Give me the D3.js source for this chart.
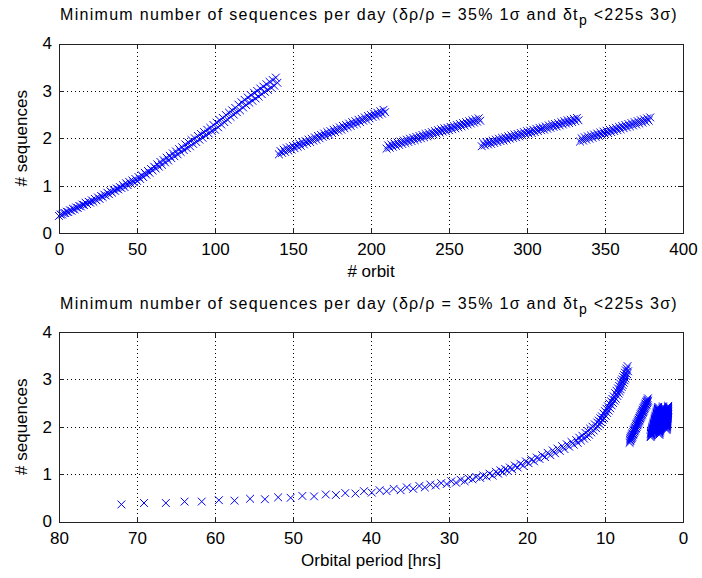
<!DOCTYPE html>
<html><head><meta charset="utf-8">
<script src="https://cdn.jsdelivr.net/npm/d3@7"></script>
<style>
body{margin:0;background:#fff;}
text{font-family:"Liberation Sans",Arial,Helvetica,sans-serif;fill:#000;}
</style>
</head><body><svg id="c" width="702" height="578"></svg>
<script>
// ---- data ----
const yTicks = [0, 1, 2, 3, 4];
const orbitTicks = [0, 50, 100, 150, 200, 250, 300, 350, 400];
const periodTicks = [80, 70, 60, 50, 40, 30, 20, 10, 0];
const segStart = [0, 141, 210, 271, 334];

// segment 1 : orbits 0..140
const seg1Seq = [0.36,0.39,0.39,0.42,0.42,0.45,0.44,0.48,0.47,0.51,0.50,
0.54,0.53,0.57,0.56,0.60,0.59,0.64,0.61,0.66,0.64,
0.69,0.66,0.72,0.69,0.75,0.72,0.78,0.76,0.81,0.79,
0.85,0.82,0.88,0.85,0.91,0.89,0.94,0.92,0.97,0.95,1.01,0.97,1.05,1.01,1.08,1.04,1.11,1.07,1.14,1.10,
1.18,1.14,1.22,1.18,1.27,1.23,1.31,1.27,1.35,1.32,1.40,1.36,1.45,1.40,1.50,1.44,1.54,1.49,1.59,1.53,1.63,1.58,1.68,1.62,1.72,
1.66,1.77,1.71,1.81,1.75,1.87,1.79,1.91,1.83,1.96,1.88,2.00,1.92,2.05,1.97,2.09,2.01,2.13,2.06,2.18,2.10,2.22,2.15,2.28,2.18,
2.33,2.23,2.38,2.29,2.43,2.34,2.49,2.39,2.54,2.45,2.59,2.50,2.64,2.55,2.71,2.59,2.76,2.65,2.81,2.70,
2.86,2.75,2.91,2.79,2.96,2.84,3.00,2.88,3.05,2.93,3.09,2.98,3.14,3.02,3.19,3.07,3.23,3.11,3.28,3.17];
const seg1Period = [72.0,69.1,66.3,63.9,61.7,59.5,57.5,55.5,53.6,51.9,50.3,48.8,47.3,45.8,44.5,43.3,42.0,40.9,39.9,38.9,38.0,37.1,36.2,35.4,34.6,33.8,33.1,32.4,31.7,31.0,30.3,
29.7,29.1,28.5,28.0,27.5,27.0,26.5,26.0,25.6,25.2,24.8,24.4,24.0,23.7,23.4,23.1,22.8,22.5,22.2,21.9,
21.55,21.2,20.85,20.5,20.15,19.8,19.45,19.1,18.75,18.4,18.05,17.7,17.35,17.0,16.7,16.4,16.1,15.8,15.5,15.2,14.9,14.6,14.3,14.0,13.7,
13.5,13.3,13.1,12.9,12.7,12.5,12.35,12.2,12.05,11.9,11.75,11.6,11.45,11.3,11.15,11.0,10.9,10.8,10.7,10.6,10.5,10.4,10.3,10.2,10.1,
10.0,9.91,9.81,9.72,9.62,9.53,9.43,9.34,9.24,9.15,9.06,8.97,8.88,8.79,8.7,8.61,8.52,8.43,8.34,8.25,
8.18,8.12,8.05,7.99,7.92,7.86,7.8,7.73,7.67,7.6,7.55,7.49,7.44,7.38,7.33,7.27,7.22,7.16,7.11,7.05];

// segment 2 : orbits 141..209
const seg2Seq = [1.66,1.73,1.69,1.76,1.71,1.79,1.74,1.81,1.76,1.84,1.79,1.86,1.82,1.89,1.84,1.92,1.87,1.94,1.90,1.97,1.92,1.99,1.95,2.02,1.97,2.05,2.00,2.07,2.03,2.10,2.05,2.13,2.08,2.15,2.11,2.18,2.13,2.20,2.16,2.23,2.18,2.26,2.21,2.28,2.24,2.31,2.26,2.34,2.29,2.36,2.31,2.39,2.34,2.41,2.37,2.44,2.39,2.47,2.42,2.49,2.45,2.52,2.47,2.54,2.50,2.57,2.52,2.60,2.55];
const seg2Period = [6.85,6.81,6.78,6.74,6.71,6.67,6.64,6.60,6.57,6.53,6.50,6.46,6.43,6.39,6.36,6.32,6.29,6.25,6.22,6.18,6.15,6.11,6.08,6.04,6.01,5.97,5.94,5.90,5.87,5.83,5.80,5.76,5.73,5.69,5.66,5.62,5.59,5.55,5.52,5.48,5.45,5.41,5.38,5.34,5.31,5.27,5.24,5.20,5.17,5.13,5.10,5.06,5.03,4.99,4.96,4.92,4.89,4.85,4.82,4.78,4.75,4.71,4.68,4.64,4.61,4.57,4.54,4.50,4.47];

// segment 3 : orbits 210..270
const seg3Seq = [1.78,1.85,1.80,1.87,1.82,1.89,1.84,1.91,1.86,1.93,1.88,1.95,1.90,1.97,1.92,1.99,1.94,2.01,1.96,2.03,1.98,2.05,2.00,2.07,2.02,2.09,2.04,2.11,2.06,2.13,2.08,2.15,2.10,2.17,2.12,2.19,2.14,2.21,2.15,2.22,2.17,2.24,2.19,2.26,2.21,2.28,2.23,2.30,2.25,2.32,2.27,2.34,2.29,2.36,2.31,2.38,2.33,2.40,2.35,2.42,2.37];
const seg3Period = [4.15,4.13,4.12,4.10,4.08,4.07,4.05,4.03,4.02,4.00,3.98,3.97,3.95,3.93,3.92,3.90,3.88,3.87,3.85,3.83,3.82,3.80,3.78,3.77,3.75,3.73,3.72,3.70,3.68,3.67,3.65,3.63,3.62,3.60,3.58,3.57,3.55,3.53,3.52,3.50,3.48,3.47,3.45,3.43,3.42,3.40,3.38,3.37,3.35,3.33,3.32,3.30,3.28,3.27,3.25,3.23,3.22,3.20,3.18,3.17,3.15];

// segment 4 : orbits 271..333
const seg4Seq = [1.83,1.90,1.85,1.92,1.87,1.93,1.88,1.95,1.90,1.97,1.92,1.99,1.94,2.01,1.95,2.02,1.97,2.04,1.99,2.06,2.01,2.08,2.02,2.09,2.04,2.11,2.06,2.13,2.08,2.15,2.10,2.16,2.11,2.18,2.13,2.20,2.15,2.22,2.17,2.23,2.18,2.25,2.20,2.27,2.22,2.29,2.24,2.30,2.25,2.32,2.27,2.34,2.29,2.36,2.31,2.38,2.32,2.39,2.34,2.41,2.36,2.43,2.38];
const seg4Period = [3.05,3.04,3.03,3.03,3.02,3.01,3.00,2.99,2.98,2.98,2.97,2.96,2.95,2.94,2.94,2.93,2.92,2.91,2.90,2.90,2.89,2.88,2.87,2.86,2.86,2.85,2.84,2.83,2.82,2.82,2.81,2.80,2.79,2.78,2.78,2.77,2.76,2.75,2.74,2.74,2.73,2.72,2.71,2.70,2.70,2.69,2.68,2.67,2.66,2.66,2.65,2.64,2.63,2.62,2.62,2.61,2.60,2.59,2.58,2.58,2.57,2.56,2.55];

// segment 5 : orbits 334..379
const seg5Seq = [1.93,2.00,1.95,2.02,1.97,2.04,1.99,2.06,2.01,2.08,2.03,2.10,2.05,2.12,2.07,2.14,2.09,2.16,2.11,2.18,2.13,2.20,2.15,2.22,2.17,2.24,2.19,2.26,2.21,2.28,2.23,2.30,2.25,2.32,2.27,2.34,2.29,2.36,2.31,2.38,2.33,2.40,2.35,2.42,2.37,2.44];
const seg5Period = [2.10,2.10,2.09,2.09,2.08,2.08,2.07,2.07,2.06,2.06,2.05,2.05,2.04,2.04,2.03,2.03,2.02,2.02,2.01,2.01,2.00,2.00,1.99,1.99,1.98,1.98,1.97,1.97,1.96,1.96,1.95,1.95,1.94,1.94,1.93,1.93,1.92,1.92,1.91,1.91,1.90,1.90,1.90,1.90,1.90,1.90];

const titleMain = "Minimum number of sequences per day (\u03B4\u03C1/\u03C1 = 35% 1\u03C3 and \u03B4t";
const titleSub = "p";
const titleEnd = " <225s 3\u03C3)";

// ---- build points ----
const seqSegs = [seg1Seq, seg2Seq, seg3Seq, seg4Seq, seg5Seq];
const perSegs = [seg1Period, seg2Period, seg3Period, seg4Period, seg5Period];
const points = [];
seqSegs.forEach((s, k) => s.forEach((v, i) => points.push({orbit: segStart[k] + i, period: perSegs[k][i], seq: v})));

const svg = d3.select("#c");
const L = 59, R = 683;

function panel(top, bottom, xDomain, xTicks, xKey, xLabel) {
  const x = d3.scaleLinear().domain(xDomain).range([L, R]);
  const y = d3.scaleLinear().domain([0, 4]).range([bottom, top]);
  const g = svg.append("g");
  // grid
  const grid = g.append("g").attr("stroke", "#000").attr("stroke-width", 1)
    .attr("stroke-dasharray", "1,3").attr("shape-rendering", "crispEdges");
  xTicks.slice(1, -1).forEach(t => grid.append("line")
    .attr("x1", Math.round(x(t)) + 0.5).attr("x2", Math.round(x(t)) + 0.5)
    .attr("y1", bottom).attr("y2", top));
  yTicks.slice(1, -1).forEach(t => grid.append("line")
    .attr("x1", L).attr("x2", R)
    .attr("y1", Math.round(y(t)) + 0.5).attr("y2", Math.round(y(t)) + 0.5));
  // markers
  g.append("g").attr("stroke", "#0000ff").attr("stroke-width", 1).attr("fill", "none")
    .selectAll("path").data(points).join("path")
    .attr("d", d => { const cx = x(d[xKey]), cy = y(d.seq), s = 3.9;
      return `M${cx - s},${cy - s}L${cx + s},${cy + s}M${cx - s},${cy + s}L${cx + s},${cy - s}`; });
  // axes
  const ax = (a) => a.tickSizeOuter(0);
  const xb = g.append("g").attr("transform", `translate(0,${bottom})`)
    .call(ax(d3.axisBottom(x).tickValues(xTicks).tickSizeInner(-5).tickPadding(10).tickFormat(d3.format("d"))));
  const xt = g.append("g").attr("transform", `translate(0,${top})`)
    .call(ax(d3.axisTop(x).tickValues(xTicks).tickSizeInner(-5).tickFormat("")));
  const yl = g.append("g").attr("transform", `translate(${L},0)`)
    .call(ax(d3.axisLeft(y).tickValues(yTicks).tickSizeInner(-5).tickPadding(7).tickFormat(d3.format("d"))));
  const yr = g.append("g").attr("transform", `translate(${R},0)`)
    .call(ax(d3.axisRight(y).tickValues(yTicks).tickSizeInner(-5).tickFormat("")));
  [xb, xt, yl, yr].forEach(a => {
    a.select(".domain").remove();
    a.selectAll("line").attr("stroke", "#222").attr("shape-rendering", "crispEdges");
    a.selectAll("text").attr("font-size", 17).attr("font-family", "\"Liberation Sans\",Arial,sans-serif").attr("fill", "#000");
  });
  g.append("rect").attr("x", L + 0.5).attr("y", Math.round(top) + 0.5)
    .attr("width", R - L).attr("height", Math.round(bottom) - Math.round(top))
    .attr("fill", "none").attr("stroke", "#222").attr("stroke-width", 1).attr("shape-rendering", "crispEdges");
  // title
  const t = g.append("text").attr("x", (L + R) / 2 - 2).attr("y", top - 23.5)
    .attr("text-anchor", "middle").attr("font-size", 16).attr("letter-spacing", "1.3px");
  t.append("tspan").text(titleMain);
  t.append("tspan").attr("dy", 5).attr("font-size", 14).text(titleSub);
  t.append("tspan").attr("dy", -5).text(titleEnd);
  // labels
  g.append("text").attr("x", (L + R) / 2).attr("y", bottom + 44).attr("text-anchor", "middle")
    .attr("font-size", 17).text(xLabel);
  g.append("text").attr("transform", `translate(27,${(top + bottom) / 2}) rotate(-90)`)
    .attr("text-anchor", "middle").attr("font-size", 17).text("# sequences");
}

panel(43.5, 233, [0, 400], orbitTicks, "orbit", "# orbit");
panel(332, 521.5, [80, 0], periodTicks, "period", "Orbital period [hrs]");
</script>
</body></html>
